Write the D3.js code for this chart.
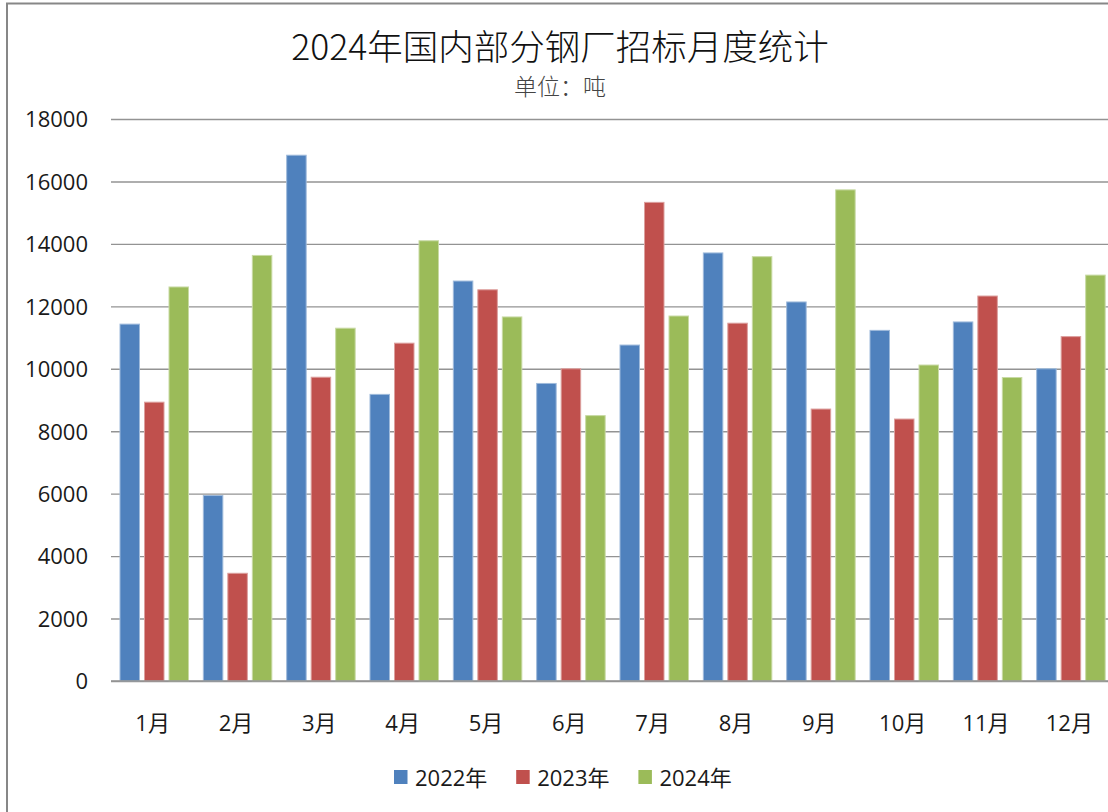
<!DOCTYPE html>
<html>
<head>
<meta charset="utf-8">
<script src="https://cdn.jsdelivr.net/npm/d3@7"></script>
<style>
  html, body { margin: 0; padding: 0; background: #ffffff; overflow: hidden; }
  svg { display: block; }
</style>
</head>
<body>
<svg id="chart" width="1108" height="812"></svg>
<script>
// ---- data ----
const months = ["1月","2月","3月","4月","5月","6月","7月","8月","9月","10月","11月","12月"];
const seriesNames = ["2022年","2023年","2024年"];
const values2022 = [11430, 5940, 16840, 9180, 12810, 9530, 10760, 13710, 12140, 11230, 11500, 10000];
const values2023 = [8930, 3450, 9730, 10820, 12530, 10000, 15330, 11460, 8710, 8390, 12330, 11030];
const values2024 = [12620, 13630, 11300, 14100, 11660, 8500, 11690, 13590, 15730, 10120, 9720, 13000];
const yTicks = [0, 2000, 4000, 6000, 8000, 10000, 12000, 14000, 16000, 18000];
const titleText = "2024年国内部分钢厂招标月度统计";
const subtitleText = "单位：吨";
const colors = ["#4F81BD", "#C0504D", "#9BBB59"];

const seriesValues = [values2022, values2023, values2024];
const table = months.map((m, i) => ({
  month: m,
  vals: seriesNames.map((s, j) => ({ key: s, idx: j, value: seriesValues[j][i] }))
}));

const svg = d3.select("#chart");
const latin = "'Open Sans', 'Noto Sans CJK SC', sans-serif";
const cjk = "'Noto Sans CJK SC', sans-serif";

// frame
svg.append("rect")
  .attr("x", 7).attr("y", 3.5).attr("width", 1120).attr("height", 830)
  .attr("fill", "#ffffff").attr("stroke", "#878787").attr("stroke-width", 2);

// scales
const plotLeft = 111, plotRight = 1111;
const y = d3.scaleLinear().domain([0, 18000]).range([681, 119]);
const x0 = d3.scaleBand().domain(months).range([plotLeft, plotRight]).paddingInner(0).paddingOuter(0);
const x1 = d3.scaleBand().domain(seriesNames).range([9, 77.5]).paddingInner(0.204).paddingOuter(0);

// y axis with gridlines
const yAxis = d3.axisLeft(y).tickValues(yTicks).tickSize(-(plotRight - plotLeft)).tickPadding(23).tickFormat(d3.format("d"));
const gy = svg.append("g").attr("transform", `translate(${plotLeft},0)`).call(yAxis);
gy.select(".domain").remove();
gy.selectAll(".tick line").attr("stroke", "#939393").attr("stroke-width", 1.4);
gy.selectAll(".tick text")
  .attr("font-family", latin).attr("font-size", 22).attr("fill", "#1a1a1a")
  .attr("dy", null).attr("y", 7.8).attr("text-anchor", "end");

// bars
const groups = svg.append("g").selectAll("g").data(table).join("g")
  .attr("transform", d => `translate(${x0(d.month)},0)`);
groups.selectAll("rect").data(d => d.vals).join("rect")
  .attr("x", d => x1(d.key))
  .attr("width", x1.bandwidth())
  .attr("y", d => y(d.value))
  .attr("height", d => y(0) - y(d.value))
  .attr("fill", d => colors[d.idx])
  .attr("stroke", d => d3.interpolateRgb(colors[d.idx], "#ffffff")(0.45))
  .attr("stroke-width", 1);

// x axis
const xAxis = d3.axisBottom(x0).tickSize(0).tickPadding(0);
const gx = svg.append("g").attr("transform", `translate(0,${y(0)})`).call(xAxis);
gx.select(".domain").remove();
gx.selectAll(".tick text")
  .attr("font-family", latin).attr("font-size", 22).attr("fill", "#1a1a1a")
  .attr("dy", null).attr("y", 50);
svg.append("line")
  .attr("x1", plotLeft).attr("x2", plotRight)
  .attr("y1", y(0)).attr("y2", y(0))
  .attr("stroke", "#939393").attr("stroke-width", 1.4);

// title
svg.append("text")
  .attr("x", 560).attr("y", 59.5).attr("text-anchor", "middle")
  .attr("font-family", cjk).attr("font-size", 35.5).attr("font-weight", 300).attr("fill", "#111111")
  .text(titleText);
svg.append("text")
  .attr("x", 560).attr("y", 94.5).attr("text-anchor", "middle")
  .attr("font-family", cjk).attr("font-size", 23).attr("font-weight", 300).attr("fill", "#444444")
  .text(subtitleText);

// legend
const legend = svg.append("g").attr("transform", "translate(394,770)");
const li = legend.selectAll("g").data(seriesNames).join("g")
  .attr("transform", (d, i) => `translate(${i * 122.2},0)`);
li.append("rect").attr("width", 13.5).attr("height", 14).attr("fill", (d, i) => colors[i]);
li.append("text").attr("x", 21).attr("y", 15.5)
  .attr("font-family", latin).attr("font-size", 22).attr("fill", "#1a1a1a")
  .text(d => d);
</script>
</body>
</html>
